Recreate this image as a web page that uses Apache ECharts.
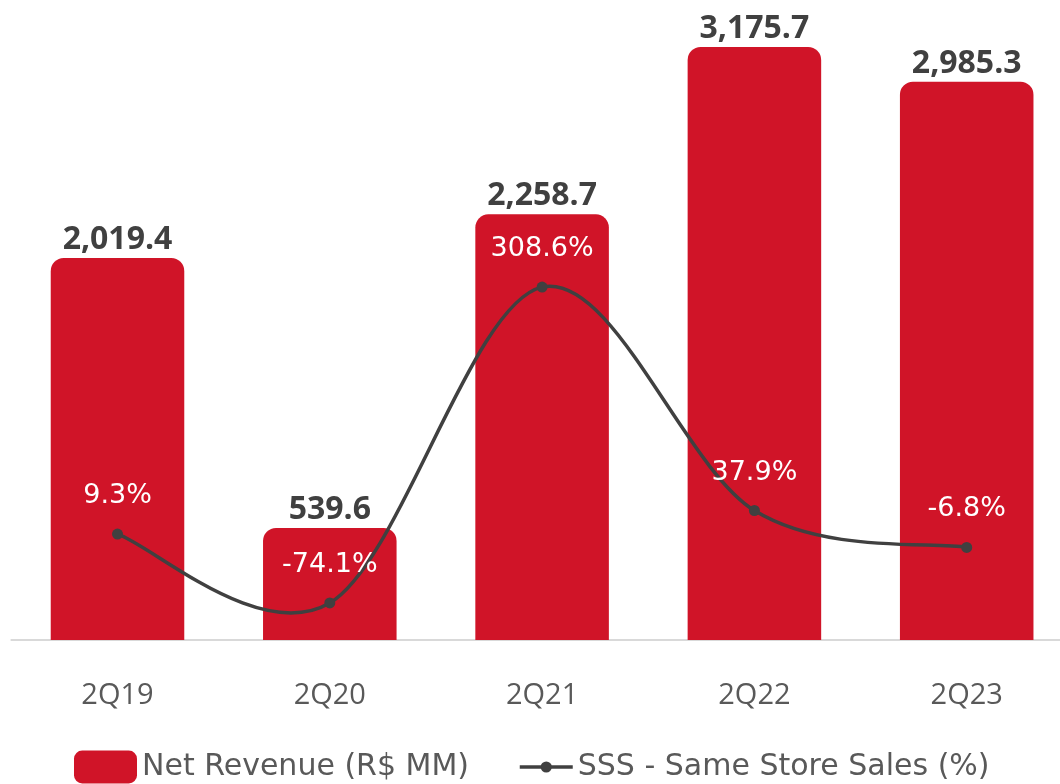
<!DOCTYPE html>
<html>
<head>
<meta charset="utf-8">
<script src="https://cdn.jsdelivr.net/npm/echarts@6/dist/echarts.min.js"></script>
<style>
html,body{margin:0;padding:0;background:#fff;}
#chart{width:1060px;height:784px;}
</style>
</head>
<body>
<div id="chart"></div>
<script>
var categories = ['2Q19', '2Q20', '2Q21', '2Q22', '2Q23'];
var netRevenue = [2019.4, 539.6, 2258.7, 3175.7, 2985.3];
var sss = [9.3, -74.1, 308.6, 37.9, -6.8];
var revenueName = 'Net Revenue (R$ MM)';
var sssName = 'SSS - Same Store Sales (%)';

var FONT = 'Open Sans';
var FONT2 = 'DejaVu Sans';
var RED = '#D01428';
var DARK = '#404040';
var REV_MIN = -74, REV_MAX = 3214;
var SSS_MIN = -119, SSS_MAX = 608;

function fmtRev(v) {
  return v.toLocaleString('en-US', {minimumFractionDigits: 1, maximumFractionDigits: 1});
}

var legendText = {fontFamily: FONT2, fontSize: 30, color: '#595959', lineHeight: 28, padding: [6, 0, 0, 0]};

var chart = echarts.init(document.getElementById('chart'), null, {renderer: 'canvas'});
chart.setOption({
  backgroundColor: '#ffffff',
  animation: false,
  grid: {left: 11.35, top: 40, width: 1061.5, height: 600, containLabel: false, outerBoundsMode: 'none'},
  legend: [
    {
      top: 750,
      left: 74,
      padding: 0,
      itemWidth: 63,
      itemHeight: 33,
      textStyle: legendText,
      data: [{name: revenueName, icon: 'roundRect'}]
    },
    {
      top: 750,
      left: 518,
      padding: 0,
      itemWidth: 53,
      itemHeight: 14,
      lineStyle: {color: DARK, width: 3.5, opacity: 1},
      textStyle: legendText,
      data: [{name: sssName}]
    }
  ],
  xAxis: {
    type: 'category',
    data: categories,
    axisLine: {show: true, onZero: false, lineStyle: {color: '#D9D9D9', width: 2}},
    axisTick: {show: false},
    axisLabel: {fontFamily: FONT, fontSize: 29, color: '#595959', margin: 41}
  },
  yAxis: [
    {type: 'value', min: REV_MIN, max: REV_MAX, show: false, splitLine: {show: false}},
    {type: 'value', min: SSS_MIN, max: SSS_MAX, show: false, splitLine: {show: false}}
  ],
  series: [
    {
      name: revenueName,
      type: 'custom',
      yAxisIndex: 0,
      itemStyle: {color: RED},
      encode: {x: 0, y: 1},
      data: netRevenue.map(function (v, i) { return [i, v]; }),
      renderItem: function (params, api) {
        var idx = api.value(0);
        var v = api.value(1);
        var top = api.coord([idx, v]);
        var bottom = api.coord([idx, REV_MIN]);
        var w = api.size([1, 0])[0] * 0.629;
        return {
          type: 'rect',
          shape: {x: top[0] - w / 2, y: top[1], width: w, height: bottom[1] - top[1], r: [13, 13, 0, 0]},
          style: {fill: RED},
          textContent: {
            style: {text: fmtRev(v), fontFamily: FONT, fontSize: 32, fontWeight: 'bold', fill: DARK}
          },
          textConfig: {position: 'top', distance: 2}
        };
      },
      z: 1
    },
    {
      // smoothed connecting curve (Catmull-Rom through the SSS points)
      type: 'custom',
      yAxisIndex: 1,
      encode: {x: 0, y: 1},
      data: sss.map(function (v, i) { return [i, v]; }),
      renderItem: function (params, api) {
        var i = params.dataIndex;
        var n = sss.length;
        if (i >= n - 1) { return null; }
        function pt(k) {
          k = Math.max(0, Math.min(n - 1, k));
          return api.coord([k, sss[k]]);
        }
        var p0 = pt(i - 1), p1 = pt(i), p2 = pt(i + 1), p3 = pt(i + 2);
        return {
          type: 'bezierCurve',
          shape: {
            x1: p1[0], y1: p1[1],
            cpx1: p1[0] + (p2[0] - p0[0]) / 6, cpy1: p1[1] + (p2[1] - p0[1]) / 6,
            cpx2: p2[0] - (p3[0] - p1[0]) / 6, cpy2: p2[1] - (p3[1] - p1[1]) / 6,
            x2: p2[0], y2: p2[1]
          },
          style: {stroke: DARK, lineWidth: 3.5, fill: null, lineCap: 'round'}
        };
      },
      z: 2
    },
    {
      name: sssName,
      type: 'line',
      yAxisIndex: 1,
      data: sss,
      symbol: 'circle',
      symbolSize: 11,
      lineStyle: {color: DARK, width: 3.5, opacity: 0},
      itemStyle: {color: DARK},
      label: {
        show: true,
        position: 'inside',
        offset: [0, -38],
        fontFamily: FONT2,
        fontSize: 27,
        color: '#ffffff',
        formatter: function (p) { return p.value.toFixed(1) + '%'; }
      },
      z: 3
    }
  ]
});
</script>
</body>
</html>
